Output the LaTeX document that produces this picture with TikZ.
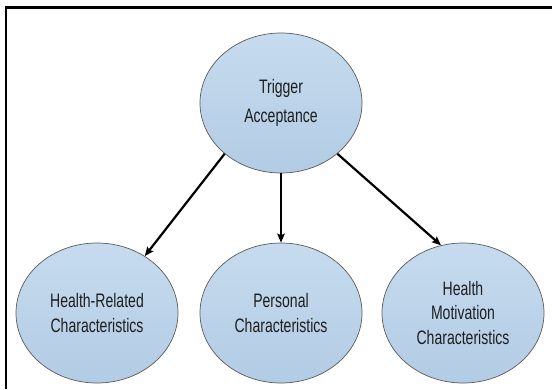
\documentclass[tikz,border=0pt]{standalone}
\usepackage{fontspec}
\newfontfamily\diagfont[FakeStretch=0.72]{Liberation Sans}
\usetikzlibrary{shapes.geometric,arrows.meta}
\definecolor{ovaltop}{HTML}{C6DBEE}
\definecolor{ovalbot}{HTML}{B2CCE5}
\definecolor{ovalline}{HTML}{5A5A5A}
\definecolor{ovaltext}{HTML}{1E1E1E}
\begin{document}
\begin{tikzpicture}[x=1pt,y=-1pt,
    oval/.style={ellipse,draw=ovalline,line width=0.7pt,top color=ovaltop,
      bottom color=ovalbot,minimum width=162pt,minimum height=140pt,
      inner sep=0pt,align=center,text=ovaltext,
      font=\diagfont\fontsize{19.5}{24.5}\selectfont},
    link/.style={line width=2.2pt,-{Stealth[length=9pt,width=7.5pt,inset=1.5pt]}}]
  \useasboundingbox (0,0) rectangle (552,389);
  \draw[line width=2.4pt] (6,389) |- (552,7.5);
  \node[oval,font=\diagfont\fontsize{19.5}{29}\selectfont] (trigger) at (281,103)
    {Trigger\\Acceptance};
  \node[oval] (health) at (97,313) {Health-Related\\Characteristics};
  \node[oval] (personal) at (281,313) {Personal\\Characteristics};
  \node[oval] (motiv) at (463,313) {Health\\Motivation\\Characteristics};
  \draw[link] (trigger.222) -- (health.50);
  \draw[link] (trigger.south) -- (personal.north);
  \draw[link] (trigger.318) -- (motiv.108);
\end{tikzpicture}
\end{document}
